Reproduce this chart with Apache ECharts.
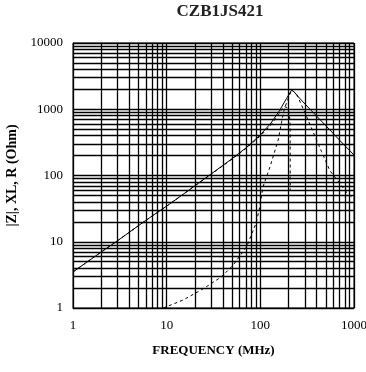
<!DOCTYPE html>
<html><head><meta charset="utf-8">
<script src="https://cdn.jsdelivr.net/npm/echarts@6/dist/echarts.min.js"></script>
<style>html,body{margin:0;padding:0;background:#fff}#c{width:366px;height:372px}</style>
</head><body><div id="c"></div>
<script>
const chartTitle = 'CZB1JS421';
const xAxisName = 'FREQUENCY (MHz)';
const yAxisName = '|Z|, XL, R (Ohm)';
const xTickLabels = [1, 10, 100, 1000];
const yTickLabels = [1, 10, 100, 1000, 10000];

// |Z| (solid)
const zFreq = [1, 2, 3, 5, 7, 10, 15, 20, 30, 50, 70, 100, 130, 160, 190, 216, 230, 250, 300, 400, 500, 700, 1000];
const zVals = [3.5, 7, 10.4, 17.5, 24.5, 34.5, 52, 70, 106, 180, 260, 410, 620, 950, 1450, 1950, 1820, 1580, 1200, 785, 565, 342, 204];
// X (dashed, reactance)
const xlFreq = [1, 2, 3, 5, 7, 10, 15, 20, 30, 50, 70, 100, 130, 155, 170, 180, 192, 203, 208, 208.5];
const xlVals = [3.5, 7, 10.4, 17.5, 24.5, 34.5, 52, 70, 105, 177, 255, 395, 580, 820, 1000, 1100, 1060, 900, 600, 60];
// R (dashed, resistance)
const rFreq = [9.2, 15, 25, 38.6, 51.4, 71.4, 90, 97, 107, 127, 155, 169, 180, 200, 216, 244, 300, 383, 450, 553, 707, 820, 1000];
const rVals = [1, 1.32, 1.98, 2.97, 4.46, 8.4, 19, 30, 68, 136, 343, 650, 1000, 1500, 1950, 1700, 880, 390, 230, 118, 76, 57, 44];

const serif = '"Liberation Serif", "Times New Roman", serif';

function gridValues(lo, hi) {
  const out = [];
  for (let d = lo; d < hi; d *= 10) for (let k = 1; k <= 9; k++) out.push(k * d);
  out.push(hi);
  return out;
}
const xGrid = gridValues(1, 1000);
const yGrid = gridValues(1, 10000);

function pairs(xs, ys) { return xs.map((x, i) => [x, ys[i]]); }

const chart = echarts.init(document.getElementById('c'), null, {renderer: 'canvas'});
chart.setOption({
  animation: false,
  backgroundColor: '#fff',
  title: {
    text: chartTitle, left: 220, top: 3, padding: 0, textAlign: 'center',
    textStyle: {fontFamily: serif, fontWeight: 'bold', fontSize: 17, color: '#222'}
  },
  grid: {left: 73, right: 12, top: 43, bottom: 64, show: true, borderColor: '#000', borderWidth: 1,
    containLabel: false, outerBoundsMode: 'none'},
  xAxis: {
    type: 'log', logBase: 10, min: 1, max: 1000,
    name: xAxisName, nameLocation: 'middle', nameGap: 36,
    nameTextStyle: {fontFamily: serif, fontWeight: 'bold', fontSize: 13, color: '#000'},
    axisLine: {show: true, lineStyle: {color: '#000'}},
    axisTick: {show: false}, splitLine: {show: false},
    axisLabel: {fontFamily: serif, fontSize: 13, color: '#000', margin: 11, hideOverlap: false,
      formatter: v => xTickLabels.includes(Math.round(v)) ? String(Math.round(v)) : ''}
  },
  yAxis: {
    type: 'log', logBase: 10, min: 1, max: 10000,
    name: yAxisName, nameLocation: 'middle', nameGap: 51, nameRotate: 90,
    nameTextStyle: {fontFamily: serif, fontWeight: 'bold', fontSize: 14, color: '#000'},
    axisLine: {show: true, lineStyle: {color: '#000'}},
    axisTick: {show: false}, splitLine: {show: false},
    axisLabel: {fontFamily: serif, fontSize: 13, color: '#000', margin: 10,
      formatter: v => yTickLabels.includes(Math.round(v)) ? String(Math.round(v)) : ''}
  },
  series: [
    {
      type: 'line', data: [[1, 1]], symbol: 'none', lineStyle: {opacity: 0}, z: 1, silent: true,
      markLine: {
        silent: true, symbol: 'none', animation: false,
        label: {show: false},
        lineStyle: {color: '#000', width: 1.3, type: 'solid'},
        data: xGrid.map(v => ({xAxis: v})).concat(yGrid.map(v => ({yAxis: v})))
      }
    },
    {type: 'line', data: pairs(zFreq, zVals), symbol: 'none', z: 3,
      lineStyle: {color: '#000', width: 1, type: 'solid'}},
    {type: 'line', data: pairs(xlFreq, xlVals), symbol: 'none', z: 3,
      lineStyle: {color: '#000', width: 1, type: [3, 3]}},
    {type: 'line', data: pairs(rFreq, rVals), symbol: 'none', z: 3,
      lineStyle: {color: '#000', width: 1, type: [3, 3]}}
  ]
});
</script></body></html>
